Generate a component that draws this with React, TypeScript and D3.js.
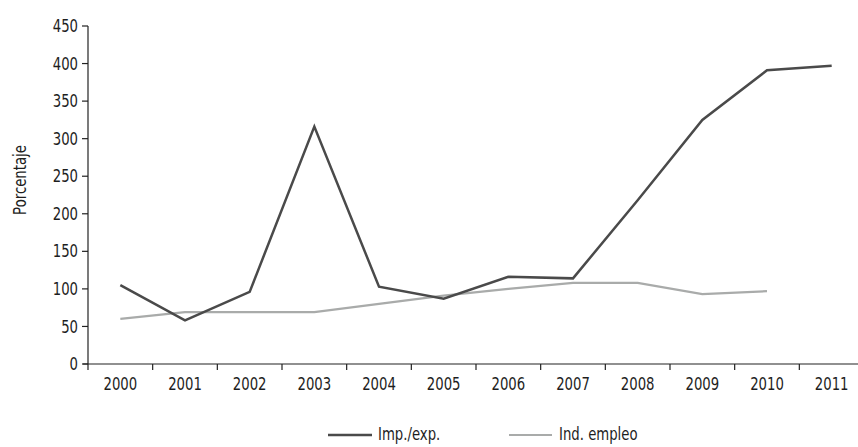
import React from "react";
import * as d3 from "d3";

const years = ["2000","2001","2002","2003","2004","2005","2006","2007","2008","2009","2010","2011"];
const impExp = [105, 58, 96, 316, 103, 87, 116, 114, 218, 325, 391, 397];
const indEmpleo: (number | null)[] = [60, 69, 69, 69, 80, 91, 100, 108, 108, 93, 97, null];
const yTicks = [0, 50, 100, 150, 200, 250, 300, 350, 400, 450];

const W = 858, H = 447;
const FONT = "'DejaVu Sans', sans-serif";
const SX = 0.78;
const FS = 17;

function T({ x, y, anchor = "start", rotate = 0, children }: { x: number; y: number; anchor?: string; rotate?: number; children: React.ReactNode }) {
  return (
    <text
      transform={`translate(${x},${y}) rotate(${rotate}) scale(${SX},1)`}
      textAnchor={anchor}
      dy="0.36em"
      fontSize={FS}
      fill="#1e1e1e"
    >
      {children}
    </text>
  );
}

export default function App() {
  const x = d3.scaleBand<string>().domain(years).range([88, 864]);
  const y = d3.scaleLinear().domain([0, 450]).range([364, 26]);
  const cx = (d: string) => (x(d) as number) + x.bandwidth() / 2;

  const line = d3.line<number | null>()
    .defined((d) => d !== null)
    .x((_, i) => cx(years[i]))
    .y((d) => y(d as number));

  return (
    <svg width={W} height={H} style={{ position: "absolute", left: 0, top: 0, background: "#fff" }} fontFamily={FONT}>
      {/* y axis */}
      <line x1={88} x2={88} y1={y(450)} y2={y(0)} stroke="#222" strokeWidth={1.2} />
      {yTicks.map((t) => (
        <g key={t}>
          <line x1={82} x2={88} y1={y(t)} y2={y(t)} stroke="#222" strokeWidth={1.2} />
          <T x={78} y={y(t)} anchor="end">{t}</T>
        </g>
      ))}
      <T x={20} y={180} anchor="middle" rotate={-90}>Porcentaje</T>
      {/* x axis */}
      <line x1={83} x2={858} y1={y(0)} y2={y(0)} stroke="#222" strokeWidth={1.2} />
      {years.map((yr) => (
        <g key={yr}>
          <line x1={x(yr)} x2={x(yr)} y1={y(0)} y2={y(0) + 6} stroke="#222" strokeWidth={1.2} />
          <T x={cx(yr)} y={384} anchor="middle">{yr}</T>
        </g>
      ))}
      {/* lines */}
      <path d={line(indEmpleo) || ""} fill="none" stroke="#a9abaa" strokeWidth={2.2} />
      <path d={line(impExp) || ""} fill="none" stroke="#4a4a4a" strokeWidth={2.5} />
      {/* legend */}
      <line x1={328} x2={372} y1={435} y2={435} stroke="#4a4a4a" strokeWidth={2.5} />
      <T x={378} y={434}>Imp./exp.</T>
      <line x1={509} x2={552} y1={435} y2={435} stroke="#a9abaa" strokeWidth={2.2} />
      <T x={559} y={434}>Ind. empleo</T>
    </svg>
  );
}
